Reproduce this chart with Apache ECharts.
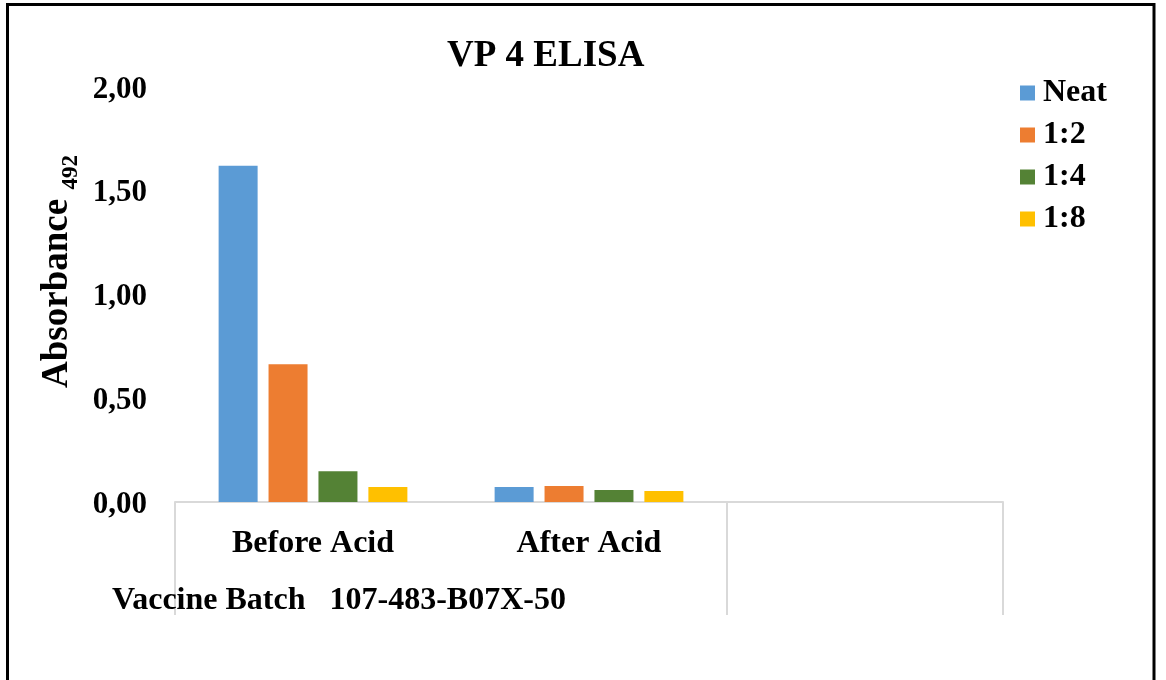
<!DOCTYPE html>
<html>
<head>
<meta charset="utf-8">
<style>
  html, body { margin: 0; padding: 0; background: #fff; }
  #chart { width: 1166px; height: 680px; }
</style>
<script src="https://cdn.jsdelivr.net/npm/echarts@6/dist/echarts.min.js"></script>
</head>
<body>
<div id="chart"></div>
<script>
// chart data
var categories = ['Before Acid', 'After Acid', ''];
var seriesNames = ['Neat', '1:2', '1:4', '1:8'];
var neat = [1.62, 0.072, null];
var dil2 = [0.664, 0.077, null];
var dil4 = [0.148, 0.058, null];
var dil8 = [0.072, 0.053, null];
var yTicks = [0, 0.5, 1, 1.5, 2];
var colors = ['#5B9BD5', '#ED7D31', '#548235', '#FFC000'];

var font = 'Liberation Serif';
var chart = echarts.init(document.getElementById('chart'));

var values = [neat, dil2, dil4, dil8];
var series = seriesNames.map(function (name, i) {
    return {
        name: name,
        type: 'bar',
        data: values[i],
        barWidth: 39,
        barGap: '28%',
        itemStyle: { color: colors[i] }
    };
});

option = {
    animation: false,
    title: [
        {
            text: 'VP 4 ELISA',
            left: 447,
            top: 38,
            padding: 0,
            textStyle: { fontFamily: font, fontSize: 37, fontWeight: 'bold', color: '#000' }
        },
        {
            text: 'Vaccine Batch   107-483-B07X-50',
            left: 112,
            top: 585,
            padding: 0,
            textStyle: { fontFamily: font, fontSize: 32, fontWeight: 'bold', color: '#000' }
        }
    ],
    legend: {
        data: seriesNames,
        orient: 'vertical',
        left: 1020,
        top: 77,
        padding: 0,
        itemWidth: 15,
        itemHeight: 15,
        itemGap: 10,
        icon: 'rect',
        textStyle: { fontFamily: font, fontSize: 32, fontWeight: 'bold', color: '#000', padding: [0, 0, 0, 3] }
    },
    grid: { left: 175, right: 163, top: 87, bottom: 178 },
    xAxis: {
        type: 'category',
        data: categories,
        axisLine: { lineStyle: { color: '#d9d9d9', width: 2 } },
        axisTick: {
            show: true,
            // only the outer group boundaries carry a tick, like the grouped Excel axis
            interval: function (index) { return index !== 1; },
            length: 113,
            lineStyle: { color: '#d9d9d9', width: 2 }
        },
        axisLabel: {
            interval: 0,
            margin: 26,
            fontFamily: font,
            fontSize: 32,
            fontWeight: 'bold',
            color: '#000'
        }
    },
    yAxis: {
        type: 'value',
        min: yTicks[0],
        max: yTicks[yTicks.length - 1],
        interval: 0.5,
        name: '{a|Absorbance }{b|492}',
        nameLocation: 'middle',
        nameRotate: 90,
        nameGap: 92,
        nameMoveOverlap: false,
        nameTextStyle: {
            padding: [0, 0, 0, 46],
            rich: {
                a: { fontFamily: font, fontSize: 37, fontWeight: 'bold', color: '#000' },
                b: { fontFamily: font, fontSize: 23, fontWeight: 'bold', color: '#000', padding: [28, 0, 0, 0] }
            }
        },
        axisLine: { show: false },
        axisTick: { show: false },
        splitLine: { show: false },
        axisLabel: {
            margin: 28,
            verticalAlign: 'top',
            padding: [-13, 0, 0, 0],
            fontFamily: font,
            fontSize: 31,
            fontWeight: 'bold',
            color: '#000',
            formatter: function (v) { return v.toFixed(2).replace('.', ','); }
        }
    },
    graphic: [{
        type: 'rect',
        shape: { x: 7.5, y: 4.5, width: 1146.5, height: 700 },
        style: { fill: null, stroke: '#000', lineWidth: 3 },
        silent: true
    }],
    series: series
};

chart.setOption(option);
</script>
</body>
</html>
